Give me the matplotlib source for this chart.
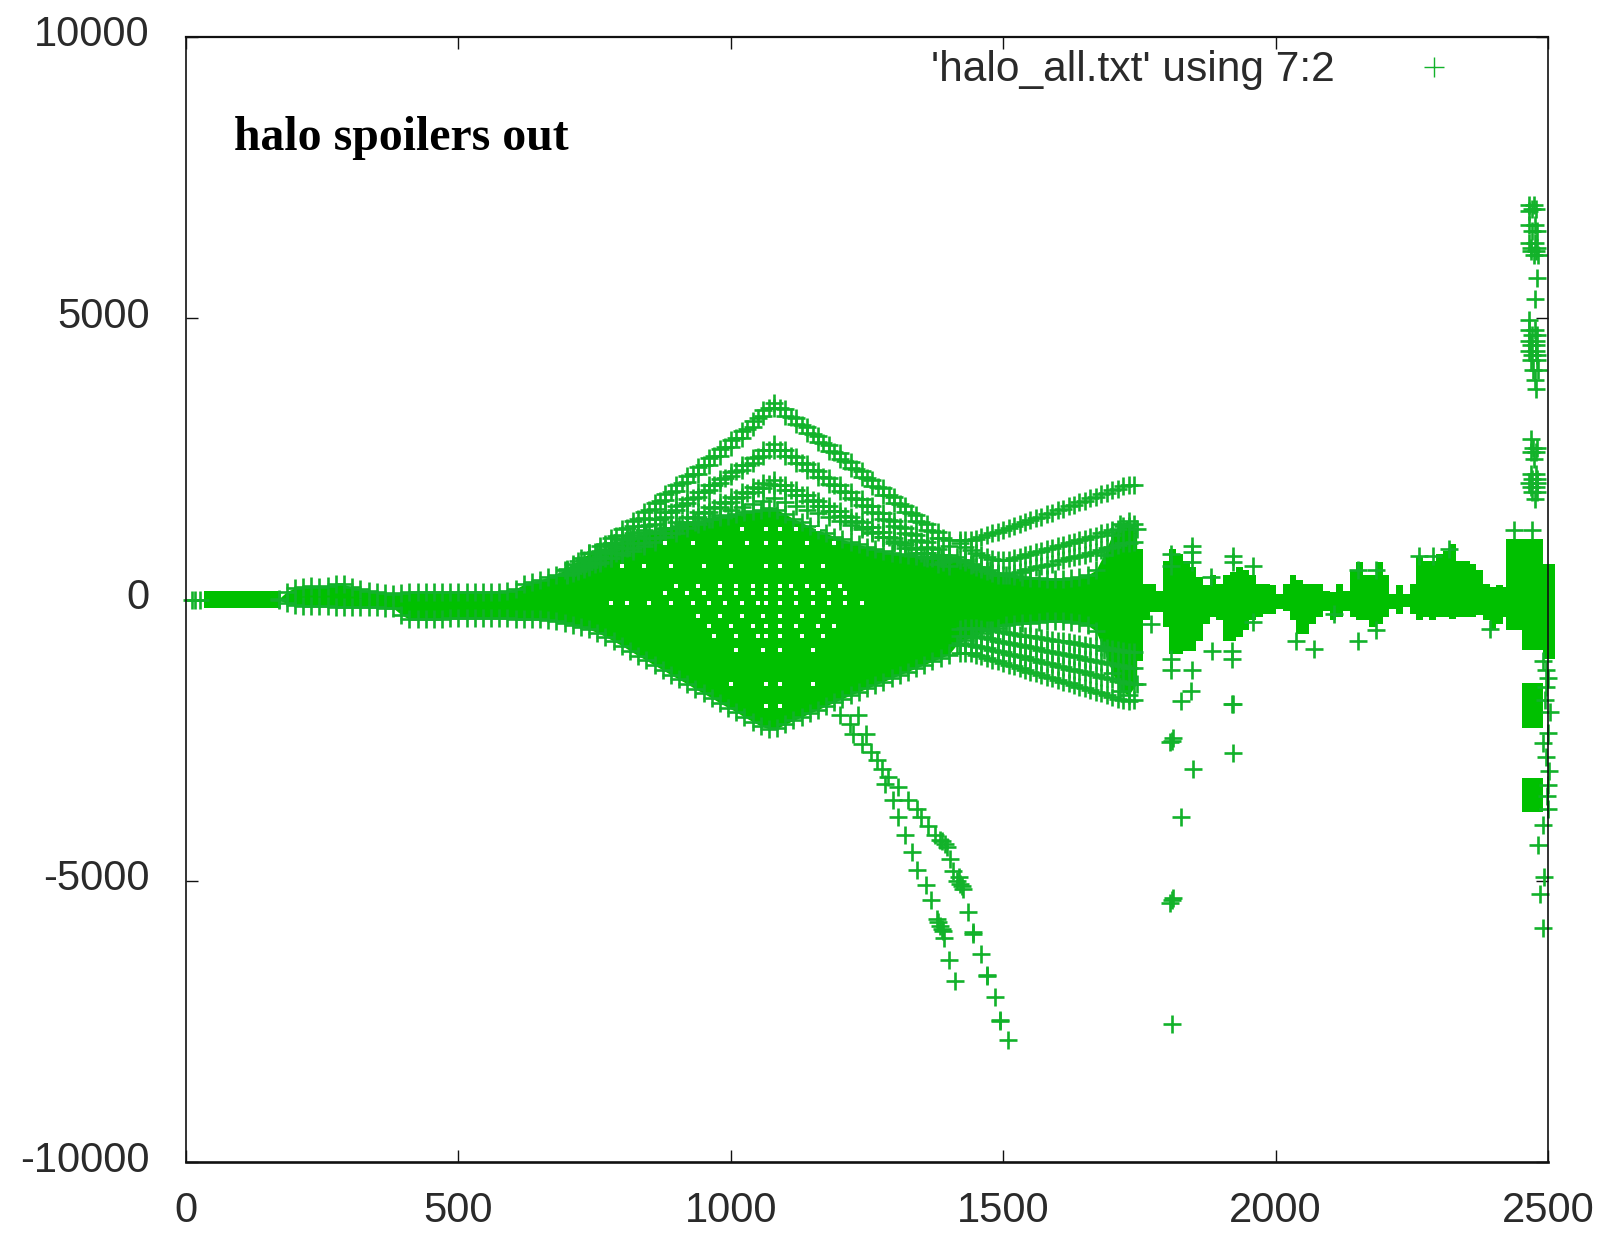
import matplotlib
matplotlib.use('Agg')
from matplotlib import pyplot as plt
from matplotlib.transforms import ScaledTranslation

FILL = '#00c000'
MARK = '#12b22a'
SANS = ['Liberation Sans', 'DejaVu Sans']

x_ticks = [0, 500, 1000, 1500, 2000, 2500]
y_ticks = [-10000, -5000, 0, 5000, 10000]

# first points near the origin and the dense band after them
start_x = [11, 16, 25]
start_y = [0, 0, 0]
band_x = [33, 172]
band_top = [155, 155]
band_bot = [-150, -150]

# saturated body of the plot
core_x = [170, 185, 200, 215, 230, 245, 260, 275, 290, 305, 320, 335, 350, 365, 380, 395, 410, 425, 440, 455,
          470, 485, 500, 515, 530, 545, 560, 575, 590, 605, 620, 635, 650, 665, 680, 695, 710, 725, 740, 755,
          770, 785, 800, 815, 830, 845, 860, 875, 890, 905, 920, 935, 950, 965, 980, 995, 1010, 1025, 1040, 1055,
          1070, 1085, 1100, 1115, 1130, 1145, 1160, 1175, 1190, 1205, 1220, 1235, 1250, 1265, 1280, 1295, 1310, 1325, 1340, 1355,
          1370, 1385, 1400, 1415, 1430, 1445, 1460, 1475, 1490, 1505, 1520, 1535, 1550, 1565, 1580, 1595, 1610, 1625, 1640, 1655,
          1670, 1685, 1700, 1715, 1730, 1745]
core_top = [10, 140, 210, 230, 240, 230, 240, 270, 270, 220, 180, 160, 140, 120, 95, 110, 130, 140, 140, 130,
            125, 125, 125, 125, 125, 130, 135, 140, 150, 190, 270, 310, 350, 400, 440, 530, 630, 730, 820, 850,
            900, 1000, 1060, 1100, 1140, 1180, 1220, 1250, 1280, 1310, 1340, 1370, 1400, 1430, 1460, 1490, 1520, 1550, 1580, 1600,
            1620, 1600, 1520, 1440, 1370, 1300, 1240, 1180, 1120, 1070, 1020, 980, 940, 900, 860, 830, 810, 790, 770, 760,
            750, 740, 730, 760, 700, 640, 580, 520, 480, 440, 410, 400, 390, 380, 370, 370, 370, 380, 400, 440,
            520, 800, 1150, 1350, 1400, 1250]
core_bot = [-5, -70, -90, -110, -120, -120, -120, -125, -125, -130, -130, -140, -140, -150, -150, -270, -355, -355, -355, -345,
            -340, -335, -330, -330, -330, -330, -330, -335, -335, -340, -340, -345, -355, -365, -380, -415, -450, -490, -530, -590,
            -660, -740, -820, -910, -1000, -1080, -1170, -1250, -1340, -1420, -1500, -1590, -1670, -1750, -1840, -1920, -2000, -2090, -2170, -2250,
            -2300, -2290, -2220, -2150, -2090, -2020, -1960, -1890, -1830, -1760, -1700, -1640, -1580, -1520, -1460, -1400, -1340, -1280, -1220, -1160,
            -1100, -1040, -980, -800, -720, -660, -600, -540, -500, -460, -430, -420, -410, -400, -390, -390, -390, -400, -420, -460,
            -560, -900, -1300, -1620, -1700, -1500]

# rising side of the fan
left_x = [700, 720, 740, 760, 780, 800, 820, 840, 860, 880, 900, 920, 940, 960, 980, 1000, 1020, 1040, 1060, 1080]
ray1_left = [540, 680, 820, 960, 1100, 1250, 1400, 1560, 1720, 1880, 2040, 2200, 2360, 2520, 2680, 2840, 3000, 3180, 3370, 3500]
ray1b_left = [460, 600, 730, 860, 1000, 1150, 1300, 1450, 1610, 1770, 1930, 2090, 2240, 2400, 2560, 2720, 2880, 3060, 3260, 3400]
ray2_left = [520, 620, 720, 830, 950, 1070, 1190, 1310, 1430, 1550, 1670, 1790, 1910, 2030, 2150, 2270, 2390, 2510, 2660, 2760]
ray2b_left = [460, 560, 660, 770, 880, 1000, 1110, 1230, 1350, 1470, 1590, 1710, 1830, 1950, 2070, 2190, 2310, 2420, 2560, 2650]
ray3_left = [480, 560, 650, 740, 830, 920, 1010, 1100, 1190, 1280, 1370, 1460, 1550, 1640, 1730, 1820, 1910, 2000, 2080, 2120]
ray3b_left = [430, 500, 570, 650, 740, 830, 920, 1010, 1100, 1190, 1280, 1370, 1460, 1550, 1640, 1730, 1820, 1910, 1990, 2030]
ray4_left = [450, 520, 590, 660, 730, 800, 870, 950, 1030, 1110, 1190, 1270, 1350, 1430, 1510, 1590, 1650, 1700, 1760, 1800]

left2_x = [710, 730, 750, 770, 790, 810, 830, 850, 870, 890, 910, 930, 950, 970, 990, 1010, 1030, 1050, 1070]
ray1c_left = [560, 700, 840, 980, 1125, 1275, 1430, 1590, 1750, 1910, 2070, 2230, 2390, 2550, 2710, 2870, 3040, 3230, 3400]
ray2c_left = [520, 620, 725, 840, 960, 1080, 1200, 1320, 1440, 1560, 1680, 1800, 1920, 2040, 2160, 2280, 2400, 2530, 2660]
ray3c_left = [470, 550, 640, 730, 820, 910, 1000, 1090, 1180, 1270, 1360, 1450, 1540, 1630, 1720, 1810, 1900, 1990, 2060]

# falling side of the fan
mid_x = [1100, 1120, 1140, 1160, 1180, 1200, 1220, 1240, 1260, 1280, 1300, 1320, 1340, 1360, 1380, 1400]
ray1_mid = [3380, 3225, 3070, 2910, 2755, 2600, 2445, 2290, 2130, 1975, 1820, 1665, 1505, 1350, 1195, 1060]
ray1b_mid = [3270, 3115, 2960, 2800, 2645, 2490, 2335, 2180, 2020, 1865, 1710, 1555, 1395, 1240, 1085, 950]
ray2_mid = [2660, 2535, 2410, 2285, 2160, 2030, 1905, 1780, 1655, 1530, 1400, 1275, 1150, 1025, 900, 800]
ray2b_mid = [2560, 2435, 2310, 2185, 2060, 1930, 1805, 1680, 1555, 1430, 1300, 1175, 1050, 925, 800, 700]
ray3_mid = [2040, 1945, 1850, 1760, 1665, 1570, 1475, 1385, 1290, 1195, 1100, 1010, 915, 820, 730, 680]
ray3b_mid = [1950, 1855, 1760, 1670, 1575, 1480, 1385, 1295, 1200, 1105, 1010, 920, 825, 730, 640, 590]
ray4_mid = [1740, 1670, 1600, 1530, 1460, 1390, 1320, 1250, 1180, 1110, 1040, 970, 900, 830, 760, 700]

mid2_x = [1090, 1110, 1130, 1150, 1170, 1190, 1210, 1230, 1250, 1270, 1290, 1310, 1330, 1350, 1370, 1390]
ray1c_mid = [3400, 3250, 3100, 2940, 2785, 2630, 2470, 2315, 2160, 2005, 1850, 1690, 1535, 1380, 1225, 1090]
ray2c_mid = [2660, 2545, 2420, 2295, 2170, 2040, 1915, 1790, 1665, 1540, 1410, 1285, 1160, 1035, 910, 800]
ray3c_mid = [2040, 1950, 1855, 1765, 1670, 1575, 1480, 1390, 1295, 1200, 1105, 1015, 920, 825, 735, 660]

# second opening of the fan up to the 1740 edge
far_x = [1420, 1440, 1460, 1480, 1500, 1520, 1540, 1560, 1580, 1600, 1620, 1640, 1660, 1680, 1700, 1720, 1740]
ray_a = [1050, 1060, 1120, 1180, 1240, 1310, 1380, 1450, 1520, 1590, 1660, 1730, 1800, 1870, 1940, 2010, 2040]
ray_b = [1000, 880, 790, 720, 700, 740, 790, 840, 900, 950, 1010, 1060, 1120, 1180, 1240, 1300, 1340]
ray_c = [700, 620, 540, 470, 430, 470, 520, 570, 620, 680, 730, 780, 830, 880, 940, 1000, 1030]
ray_e = [-950, -950, -1010, -1070, -1130, -1190, -1250, -1310, -1370, -1430, -1490, -1550, -1610, -1670, -1730, -1790, -1780]
ray_f = [-780, -800, -850, -890, -940, -990, -1030, -1080, -1130, -1180, -1230, -1270, -1320, -1370, -1420, -1470, -1500]
ray_g = [-640, -640, -670, -710, -750, -790, -830, -870, -910, -950, -990, -1030, -1070, -1110, -1150, -1190, -1220]
ray_h = [-520, -500, -520, -550, -580, -610, -640, -670, -700, -730, -760, -790, -820, -850, -880, -910, -930]

far2_x = [1430, 1450, 1470, 1490, 1510, 1530, 1550, 1570, 1590, 1610, 1630, 1650, 1670, 1690, 1710, 1730]
ray_a2 = [1050, 1080, 1140, 1200, 1265, 1335, 1405, 1475, 1545, 1615, 1685, 1755, 1825, 1895, 1965, 2030]
ray_b2 = [930, 830, 750, 700, 710, 755, 805, 860, 915, 970, 1025, 1080, 1135, 1195, 1255, 1310]
ray_c2 = [660, 580, 500, 440, 440, 490, 540, 590, 640, 700, 750, 800, 850, 910, 970, 1010]
ray_e2 = [-950, -980, -1040, -1100, -1160, -1220, -1280, -1340, -1400, -1460, -1520, -1580, -1640, -1700, -1760, -1800]
ray_f2 = [-790, -825, -870, -915, -965, -1010, -1055, -1105, -1155, -1205, -1250, -1295, -1345, -1395, -1445, -1490]
ray_g2 = [-640, -655, -690, -730, -770, -810, -850, -890, -930, -970, -1010, -1050, -1090, -1130, -1170, -1210]
ray_h2 = [-510, -510, -535, -565, -595, -625, -655, -685, -715, -745, -775, -805, -835, -865, -895, -925]

# the two arms falling away below the fan
arm_x = [1200, 1234, 1219, 1249, 1225, 1240, 1258, 1268, 1277, 1289, 1283, 1307, 1298, 1326, 1341, 1307, 1350, 1362, 1320, 1375,
         1384, 1393, 1332, 1402, 1341, 1408, 1418, 1421, 1427, 1358, 1367, 1436, 1378, 1384, 1390, 1391, 1445, 1401, 1460, 1411,
         1470, 1485, 1494, 1509, 1388, 1397, 1416, 1424, 1380, 1387, 1445, 1470, 1494]
arm_y = [-2062, -2062, -2210, -2388, -2388, -2566, -2714, -2862, -3010, -3159, -3277, -3336, -3573, -3573, -3721, -3870, -3870, -4018, -4178, -4178,
         -4284, -4344, -4492, -4610, -4806, -4818, -4936, -5055, -5144, -5084, -5351, -5547, -5677, -5796, -5885, -6015, -5914, -6406, -6311, -6791,
         -6667, -7070, -7473, -7828, -4300, -4400, -5000, -5100, -5740, -5850, -5950, -6690, -7500]

# outline of the clusters after the fan
tail_x = [1745, 1757, 1769, 1781, 1793, 1805, 1818, 1830, 1842, 1854, 1867, 1879, 1891, 1903, 1916, 1928, 1940, 1952, 1964, 1977,
          1989, 2001, 2013, 2026, 2038, 2050, 2062, 2075, 2087, 2099, 2111, 2123, 2136, 2148, 2160, 2172, 2185, 2197, 2209, 2221,
          2234, 2246, 2258, 2270, 2282, 2295, 2307, 2319, 2331, 2344, 2356, 2368, 2380, 2393, 2405, 2417, 2423, 2452, 2490, 2512]
tail_top = [900, 279, 279, 160, 693, 901, 812, 693, 575, 397, 249, 427, 279, 427, 486, 575, 516, 427, 279, 279,
            249, 101, 279, 427, 340, 279, 279, 279, 160, 130, 279, 160, 516, 664, 427, 427, 664, 427, 101, 249,
            101, 279, 782, 693, 693, 812, 870, 990, 693, 693, 634, 516, 279, 219, 249, 219, 1080, 1080, 640, 640]
tail_bot = [-1100, -373, -225, -225, -492, -966, -966, -907, -907, -729, -433, -314, -373, -729, -729, -670, -551, -373, -314, -255,
            -255, -166, -196, -373, -610, -610, -433, -314, -196, -373, -314, -196, -314, -373, -373, -492, -433, -314, -166, -255,
            -135, -255, -373, -314, -373, -314, -314, -345, -314, -314, -314, -284, -373, -551, -433, -314, -550, -900, -1050, -560]

tail_pts_x = [1847, 1847, 1847, 1808, 1808, 1922, 1922, 1958, 1884, 1920, 1920, 1808, 1808, 1847, 1845, 1827, 1920, 2038, 2071, 2108,
              2151, 2185, 2151, 2185, 2263, 2318, 2288, 1958, 1882, 2438, 2470, 2393, 1772, 1809, 1812, 1806, 1848, 1827, 1809, 1812,
              1806, 1809, 1922, 1922]
tail_pts_y = [960, 840, 664, 812, 600, 782, 664, 604, -907, -907, -1055, -1055, -1262, -1262, -1630, -1796, -1855, -729, -877, -255,
              -729, -551, 516, 516, 782, 900, 782, -403, 397, 1227, 1227, -521, -433, -2507, -2470, -2530, -3009, -3858, -5351, -5310,
              -5390, -7538, -1855, -2727]

# column at the right hand edge
right_x = [2466, 2474, 2466, 2466, 2476, 2471, 2480, 2466, 2476, 2468, 2480, 2474, 2482, 2480, 2476,
           2466, 2466, 2476, 2466, 2478, 2466, 2478, 2468, 2480, 2472, 2482, 2476, 2478,
           2468, 2472, 2480, 2474, 2468, 2478, 2466, 2480, 2470, 2480, 2476,
           2490, 2497, 2500, 2497, 2495, 2500, 2490, 2497, 2502, 2500, 2498, 2490, 2482, 2492, 2485, 2490, 2503, 2500,
           2470, 2478, 2468, 2478, 2470, 2480, 2468, 2478, 2470, 2480, 2468, 2478, 2470, 2480, 2468, 2478]
right_y = [7007, 7007, 6900, 6653, 6653, 6560, 6560, 6343, 6343, 6250, 6250, 6120, 6120, 5724, 5344,
           4972, 4800, 4800, 4600, 4600, 4420, 4420, 4260, 4260, 4088, 4088, 3900, 3734,
           2850, 2700, 2700, 2500, 2230, 2230, 2080, 2080, 1920, 1920, 1790,
           -1100, -1250, -1400, -1560, -1780, -2380, -2545, -2800, -3050, -3300, -3500, -4005, -4360, -4930, -5240, -5845, -2000, -3720,
           6950, 6950, 6200, 6200, 4700, 4700, 4520, 4520, 4340, 4340, 2620, 2620, 2150, 2150, 2000, 2000]
block_x = [2452, 2490]
block_a_top = [-1480, -1480]
block_a_bot = [-2280, -2280]
block_b_top = [-3170, -3170]
block_b_bot = [-3780, -3780]

# small unfilled gaps left between the columns of points
gap_rows = [(1250, [1020, 1065, 1090, 1120, 1160]),
            (1000, [880, 930, 980, 1030, 1065, 1090, 1140, 1190]),
            (600, [800, 840, 890, 950, 1000, 1065, 1090, 1130, 1170]),
            (240, [900, 940, 980, 1010, 1040, 1065, 1090, 1110, 1140, 1170, 1200]),
            (120, [880, 920, 950, 980, 1010, 1040, 1065, 1090, 1120, 1150, 1180, 1210]),
            (-60, [780, 810, 850, 890, 930, 960, 990, 1020, 1050, 1065, 1090, 1120, 1150, 1180, 1210, 1240]),
            (-300, [940, 980, 1020, 1060, 1090, 1130, 1170]),
            (-470, [960, 1000, 1040, 1065, 1090, 1120, 1160, 1190]),
            (-650, [970, 1010, 1050, 1065, 1090, 1130, 1170]),
            (-890, [1010, 1060, 1090, 1150]),
            (-1500, [1000, 1065, 1090, 1150]),
            (-1900, [1065, 1090])]

rays = [(left_x, ray1_left), (left_x, ray1b_left), (left_x, ray2_left), (left_x, ray2b_left),
        (left_x, ray3_left), (left_x, ray3b_left), (left_x, ray4_left),
        (left2_x, ray1c_left), (left2_x, ray2c_left), (left2_x, ray3c_left),
        (mid_x, ray1_mid), (mid_x, ray1b_mid), (mid_x, ray2_mid), (mid_x, ray2b_mid),
        (mid_x, ray3_mid), (mid_x, ray3b_mid), (mid_x, ray4_mid),
        (mid2_x, ray1c_mid), (mid2_x, ray2c_mid), (mid2_x, ray3c_mid),
        (far_x, ray_a), (far_x, ray_b), (far_x, ray_c), (far_x, ray_e), (far_x, ray_f), (far_x, ray_g), (far_x, ray_h),
        (far2_x, ray_a2), (far2_x, ray_b2), (far2_x, ray_c2), (far2_x, ray_e2), (far2_x, ray_f2), (far2_x, ray_g2), (far2_x, ray_h2),
        (core_x, core_top), (core_x, core_bot), (arm_x, arm_y), (tail_pts_x, tail_pts_y),
        (right_x, right_y), (start_x, start_y)]


def marks(ax, xs, ys):
    ax.plot(xs, ys, '+', color=MARK, ms=13, mew=1.9, clip_on=False, zorder=2)


def main():
    plt.rcParams['axes.unicode_minus'] = False
    fig = plt.figure(figsize=(16.02, 12.33), dpi=100, facecolor='white')
    ax = fig.add_axes([186 / 1602, 1 - 1162 / 1233, 1362 / 1602, 1125 / 1233])

    ax.fill_between(band_x, band_bot, band_top, color=FILL, lw=0, zorder=2)
    ax.fill_between(core_x, core_bot, core_top, color=FILL, lw=0, zorder=2)
    ax.fill_between(tail_x, tail_bot, tail_top, color=FILL, lw=0, step='post', clip_on=False, zorder=2)
    ax.fill_between(block_x, block_a_bot, block_a_top, color=FILL, lw=0, zorder=2)
    ax.fill_between(block_x, block_b_bot, block_b_top, color=FILL, lw=0, zorder=2)

    for xs, ys in rays:
        marks(ax, xs, ys)

    for y, xs in gap_rows:
        ax.plot(xs, [y] * len(xs), 's', color='white', ms=2.2, mew=0, zorder=2.1)

    ax.plot([], [], '+', color=MARK, ms=14, mew=1.0, label="'halo_all.txt' using 7:2")
    ax.legend(loc='upper right', bbox_to_anchor=(0.963, 1.007), frameon=False, markerfirst=False, numpoints=1,
              handletextpad=1.33, borderpad=0, prop={'family': SANS, 'size': 30.6}, labelcolor='#2a2a2a')

    ax.text(234 / 1602, 1 - 150 / 1233, 'halo spoilers out', transform=fig.transFigure,
            family='Liberation Serif', weight='bold', size=34.4, color='black')

    ax.set_xlim(0, 2500)
    ax.set_ylim(-10000, 10000)
    ax.set_xticks(x_ticks)
    ax.set_yticks(y_ticks)
    ax.tick_params(direction='in', length=8.6, width=1.0, top=True, right=True, color='#111111')
    ax.tick_params(axis='x', pad=21)
    ax.tick_params(axis='y', pad=26)
    for lab in ax.get_xticklabels() + ax.get_yticklabels():
        lab.set_family(SANS)
        lab.set_size(30)
        lab.set_color('#2a2a2a')
    shift = ScaledTranslation(0, 6 / 100, fig.dpi_scale_trans)
    for lab in ax.get_yticklabels():
        lab.set_transform(lab.get_transform() + shift)

    for name, w in (('left', 1.2), ('right', 1.2), ('top', 1.6), ('bottom', 1.9)):
        ax.spines[name].set_linewidth(w)
        ax.spines[name].set_color('#111111')

    plt.savefig('out.png', dpi=100)


if __name__ == '__main__':
    main()
